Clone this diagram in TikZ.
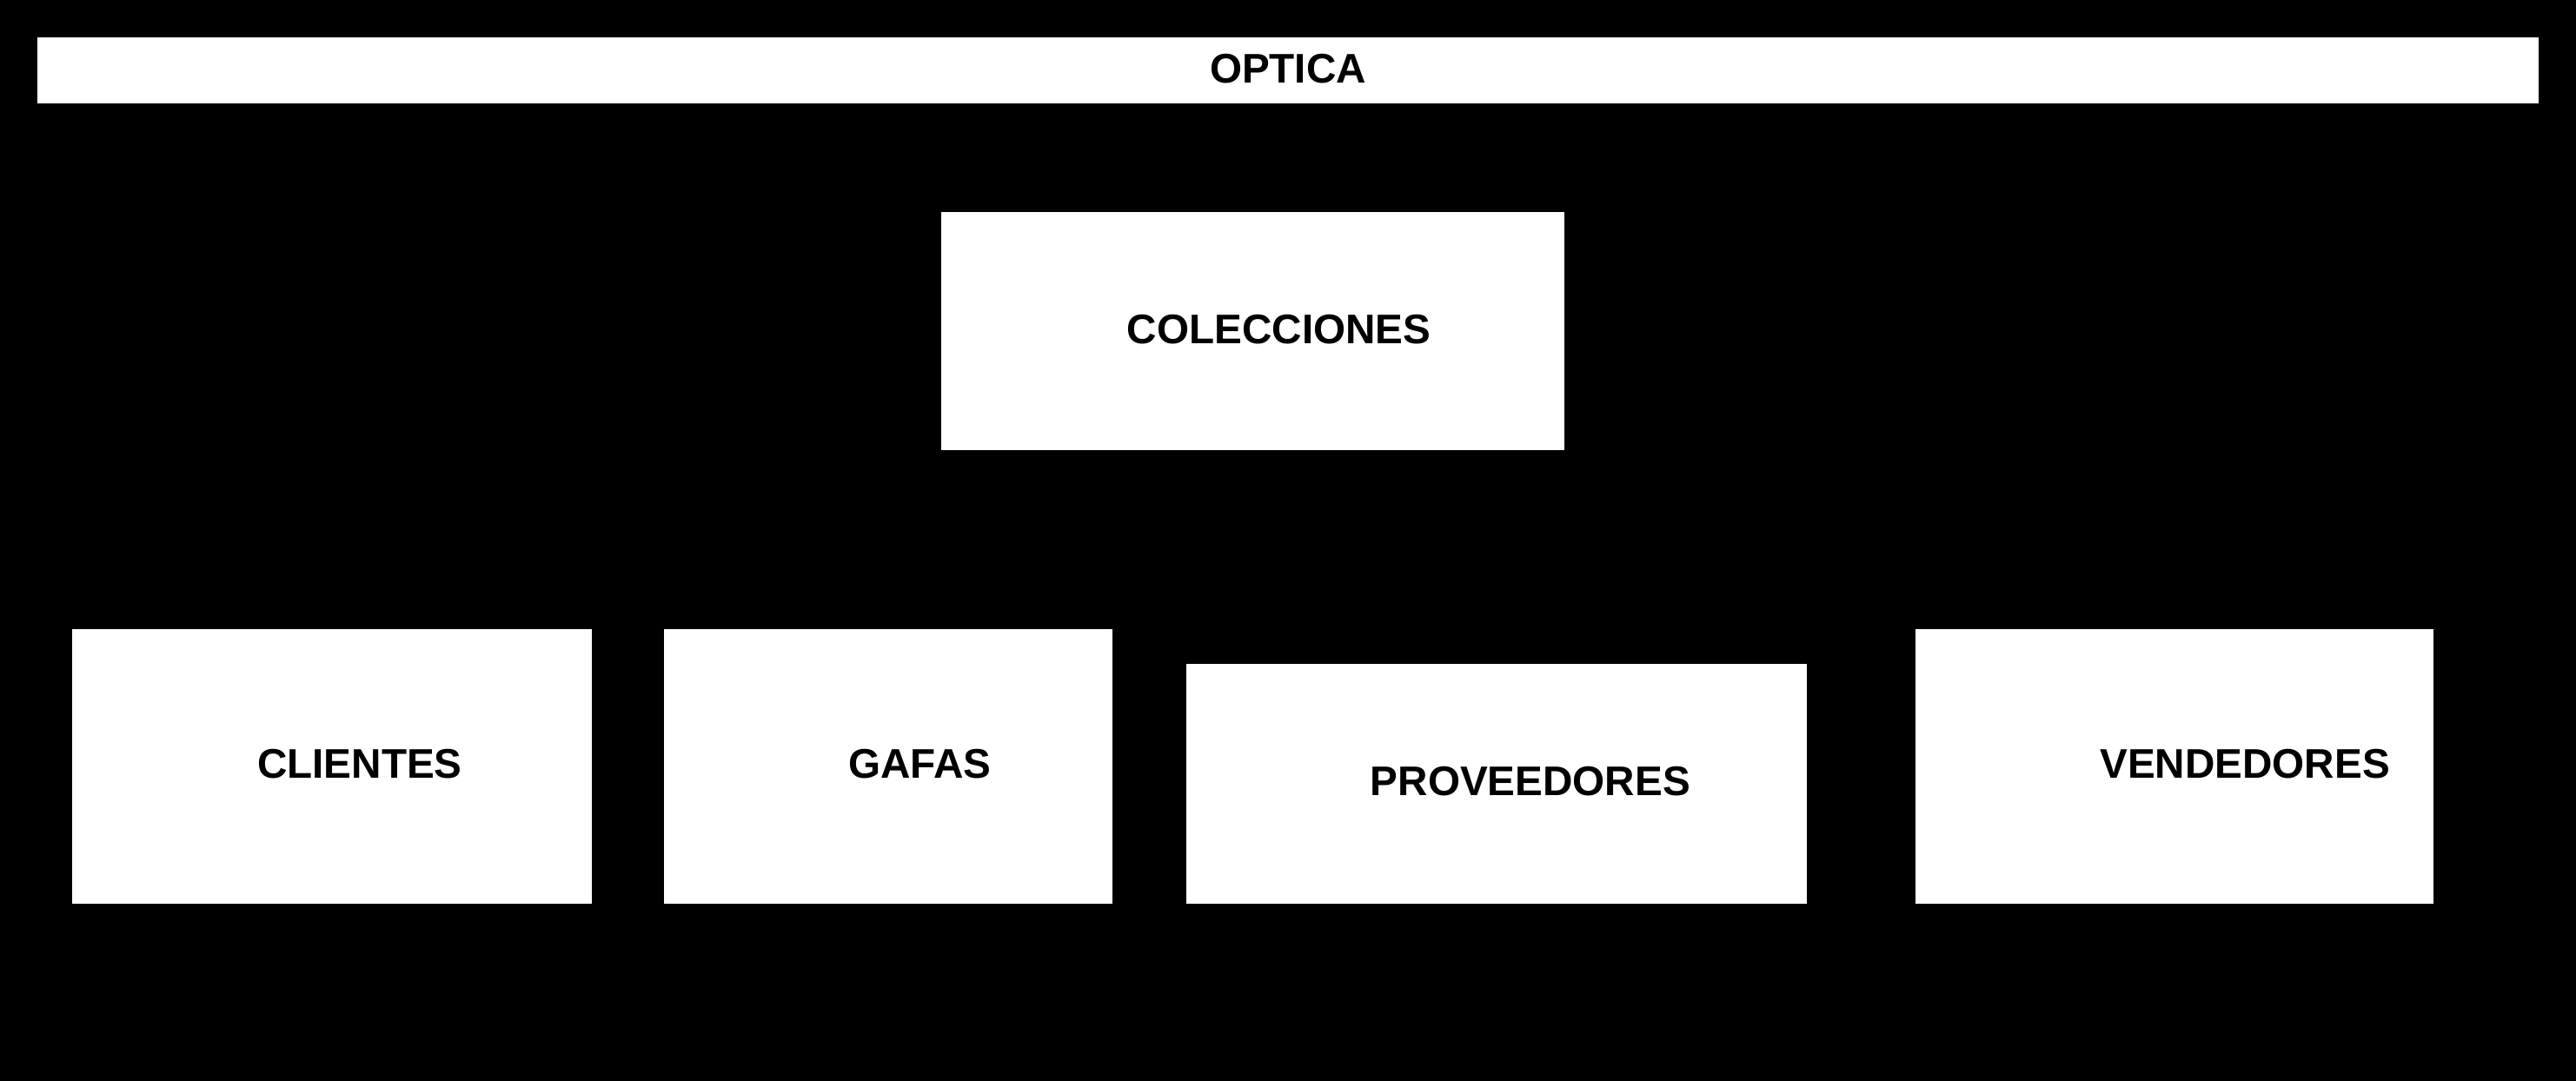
\documentclass[tikz,border=0pt]{standalone}
\usepackage{fontspec}
\setmainfont{Liberation Sans}
\begin{document}
\begin{tikzpicture}[x=1pt,y=-1pt,
  box/.style={draw=none,fill=white,inner sep=0pt,outer sep=0pt,anchor=north west},
  lbl/.style={font=\bfseries\fontsize{25.2}{30}\selectfont,text=black,inner sep=0pt}]
\fill[black] (0,0) rectangle (1568,658);
\useasboundingbox (0,0) rectangle (1568,658);
% boxes
\node[box,minimum width=1522pt,minimum height=40pt] (optica) at (23,23) {};
\node[box,minimum width=379pt,minimum height=145pt] (colecciones) at (573,129) {};
\node[box,minimum width=316pt,minimum height=167pt] (clientes) at (44,383) {};
\node[box,minimum width=273pt,minimum height=167pt] (gafas) at (404,383) {};
\node[box,minimum width=378pt,minimum height=146pt] (proveedores) at (722,404) {};
\node[box,minimum width=315pt,minimum height=167pt] (vendedores) at (1166,383) {};
% labels
\node[lbl] (toptica) at (784,42) {OPTICA};
\node[lbl] (tcolecciones) at (778.5,200.5) {COLECCIONES};
\node[lbl] (tclientes) at (219,465) {CLIENTES};
\node[lbl] (tgafas) at (560,465) {GAFAS};
\node[lbl] (tproveedores) at (931.5,475.5) {PROVEEDORES};
\node[lbl] (tvendedores) at (1366.5,465) {VENDEDORES};
\end{tikzpicture}
\end{document}
